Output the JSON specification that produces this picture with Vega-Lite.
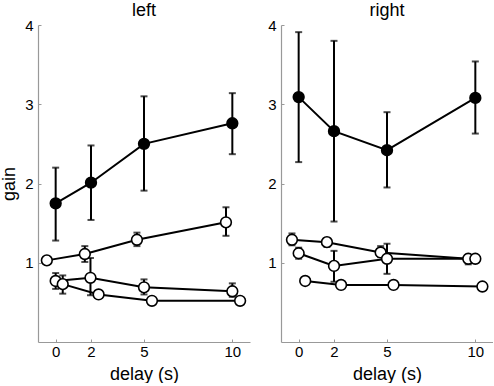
{
  "$schema": "https://vega.github.io/schema/vega-lite/v6.json",
  "padding": {"left": 0, "top": 2, "right": 0, "bottom": 0},
  "config": {
    "font": "Liberation Sans",
    "view": {"stroke": null},
    "concat": {"spacing": 17},
    "axis": {
      "grid": false,
      "domainColor": "#999999",
      "domainWidth": 1.2,
      "tickColor": "#999999",
      "tickSize": -3,
      "labelFont": "Liberation Sans",
      "labelFontSize": 15,
      "labelColor": "black",
      "titleFont": "Liberation Sans",
      "titleFontSize": 18,
      "titleFontWeight": "normal",
      "titleColor": "black"
    },
    "title": {"font": "Liberation Sans", "fontSize": 18, "fontWeight": "normal", "anchor": "middle", "offset": -2, "color": "black"}
  },
  "datasets": {
    "d": [
      {"panel": "left", "series": "F", "filled": "yes", "x": 0, "y": 1.75, "lo": 1.28, "hi": 2.2},
      {"panel": "left", "series": "F", "filled": "yes", "x": 2, "y": 2.01, "lo": 1.54, "hi": 2.48},
      {"panel": "left", "series": "F", "filled": "yes", "x": 5, "y": 2.5, "lo": 1.91, "hi": 3.1},
      {"panel": "left", "series": "F", "filled": "yes", "x": 10, "y": 2.76, "lo": 2.37, "hi": 3.14},
      {"panel": "left", "series": "A", "filled": "no", "x": -0.5, "y": 1.03, "lo": 1.0, "hi": 1.06},
      {"panel": "left", "series": "A", "filled": "no", "x": 1.65, "y": 1.11, "lo": 1.01, "hi": 1.21},
      {"panel": "left", "series": "A", "filled": "no", "x": 4.6, "y": 1.29, "lo": 1.21, "hi": 1.38},
      {"panel": "left", "series": "A", "filled": "no", "x": 9.64, "y": 1.51, "lo": 1.34, "hi": 1.7},
      {"panel": "left", "series": "B", "filled": "no", "x": 0.0, "y": 0.77, "lo": 0.67, "hi": 0.87},
      {"panel": "left", "series": "B", "filled": "no", "x": 1.97, "y": 0.81, "lo": 0.59, "hi": 1.06},
      {"panel": "left", "series": "B", "filled": "no", "x": 5.0, "y": 0.69, "lo": 0.6, "hi": 0.79},
      {"panel": "left", "series": "B", "filled": "no", "x": 10.0, "y": 0.64, "lo": 0.57, "hi": 0.74},
      {"panel": "left", "series": "C", "filled": "no", "x": 0.4, "y": 0.73, "lo": 0.61, "hi": 0.84},
      {"panel": "left", "series": "C", "filled": "no", "x": 2.43, "y": 0.6, "lo": 0.6, "hi": 0.6},
      {"panel": "left", "series": "C", "filled": "no", "x": 5.45, "y": 0.52, "lo": 0.52, "hi": 0.52},
      {"panel": "left", "series": "C", "filled": "no", "x": 10.44, "y": 0.52, "lo": 0.52, "hi": 0.52},
      {"panel": "right", "series": "F", "filled": "yes", "x": 0, "y": 3.09, "lo": 2.27, "hi": 3.91},
      {"panel": "right", "series": "F", "filled": "yes", "x": 2, "y": 2.66, "lo": 1.52, "hi": 3.8},
      {"panel": "right", "series": "F", "filled": "yes", "x": 5, "y": 2.42, "lo": 1.95, "hi": 2.9},
      {"panel": "right", "series": "F", "filled": "yes", "x": 10, "y": 3.08, "lo": 2.63, "hi": 3.54},
      {"panel": "right", "series": "A", "filled": "no", "x": -0.38, "y": 1.29, "lo": 1.22, "hi": 1.37},
      {"panel": "right", "series": "A", "filled": "no", "x": 1.6, "y": 1.26, "lo": 1.2, "hi": 1.31},
      {"panel": "right", "series": "A", "filled": "no", "x": 4.64, "y": 1.13, "lo": 1.07, "hi": 1.21},
      {"panel": "right", "series": "A", "filled": "no", "x": 9.6, "y": 1.05, "lo": 0.98, "hi": 1.1},
      {"panel": "right", "series": "B", "filled": "no", "x": 0.0, "y": 1.12, "lo": 1.05, "hi": 1.19},
      {"panel": "right", "series": "B", "filled": "no", "x": 2.0, "y": 0.96, "lo": 0.76, "hi": 1.15},
      {"panel": "right", "series": "B", "filled": "no", "x": 5.0, "y": 1.05, "lo": 0.86, "hi": 1.24},
      {"panel": "right", "series": "B", "filled": "no", "x": 10.0, "y": 1.05, "lo": 1.0, "hi": 1.09},
      {"panel": "right", "series": "C", "filled": "no", "x": 0.37, "y": 0.77, "lo": 0.77, "hi": 0.77},
      {"panel": "right", "series": "C", "filled": "no", "x": 2.4, "y": 0.72, "lo": 0.72, "hi": 0.72},
      {"panel": "right", "series": "C", "filled": "no", "x": 5.37, "y": 0.72, "lo": 0.72, "hi": 0.72},
      {"panel": "right", "series": "C", "filled": "no", "x": 10.4, "y": 0.7, "lo": 0.7, "hi": 0.7}
    ]
  },
  "hconcat": [
    {
      "title": "left",
      "width": 212,
      "height": 317,
      "data": {"name": "d"},
      "transform": [{"filter": "datum.panel == 'left'"}],
      "encoding": {
        "x": {"field": "x", "type": "quantitative", "scale": {"domain": [-1, 11], "nice": false}, "axis": {"values": [0, 2, 5, 10], "title": "delay (s)", "labelPadding": 5, "titlePadding": 6}},
        "y": {"field": "y", "type": "quantitative", "scale": {"domain": [0, 4], "nice": false}, "axis": {"values": [1, 2, 3, 4], "title": "gain", "labelPadding": 8, "titlePadding": 6}}
      },
      "layer": [
        {"mark": {"type": "line", "color": "black", "strokeWidth": 2}, "encoding": {"detail": {"field": "series"}}},
        {"mark": {"type": "errorbar", "ticks": true, "color": "black", "thickness": 2, "size": 7}, "encoding": {"y": {"field": "lo", "type": "quantitative"}, "y2": {"field": "hi"}}},
        {"mark": {"type": "point", "shape": "circle", "size": 115, "filled": true, "opacity": 1, "strokeWidth": 1.6, "stroke": "black"}, "encoding": {"fill": {"field": "filled", "type": "nominal", "scale": {"domain": ["yes", "no"], "range": ["black", "white"]}, "legend": null}}}
      ]
    },
    {
      "title": "right",
      "width": 212,
      "height": 317,
      "data": {"name": "d"},
      "transform": [{"filter": "datum.panel == 'right'"}],
      "encoding": {
        "x": {"field": "x", "type": "quantitative", "scale": {"domain": [-1, 11], "nice": false}, "axis": {"values": [0, 2, 5, 10], "title": "delay (s)", "labelPadding": 5, "titlePadding": 6}},
        "y": {"field": "y", "type": "quantitative", "scale": {"domain": [0, 4], "nice": false}, "axis": {"values": [1, 2, 3, 4], "title": null, "labelPadding": 8}}
      },
      "layer": [
        {"mark": {"type": "line", "color": "black", "strokeWidth": 2}, "encoding": {"detail": {"field": "series"}}},
        {"mark": {"type": "errorbar", "ticks": true, "color": "black", "thickness": 2, "size": 7}, "encoding": {"y": {"field": "lo", "type": "quantitative"}, "y2": {"field": "hi"}}},
        {"mark": {"type": "point", "shape": "circle", "size": 115, "filled": true, "opacity": 1, "strokeWidth": 1.6, "stroke": "black"}, "encoding": {"fill": {"field": "filled", "type": "nominal", "scale": {"domain": ["yes", "no"], "range": ["black", "white"]}, "legend": null}}}
      ]
    }
  ]
}
